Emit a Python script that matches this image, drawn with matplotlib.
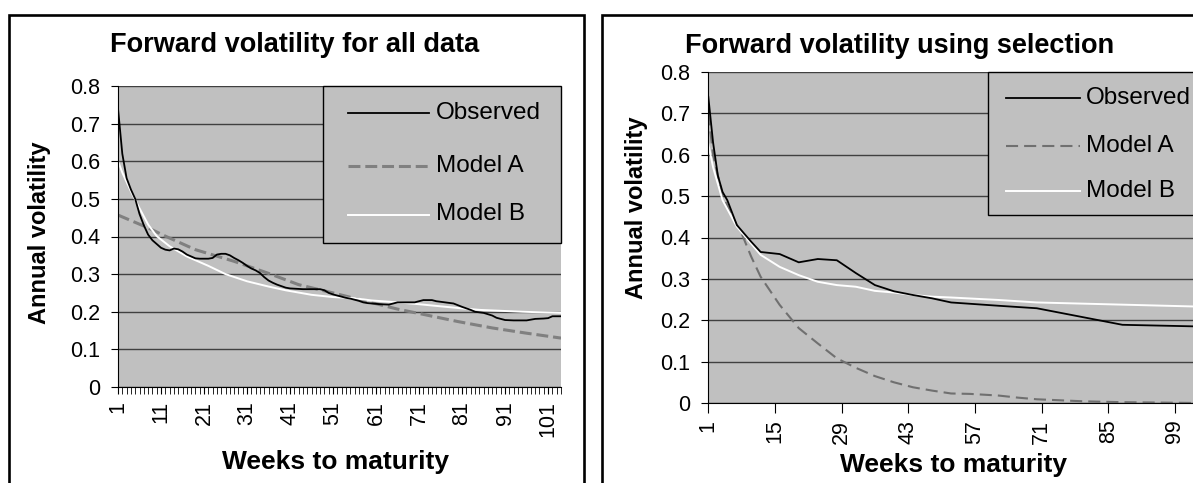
import matplotlib
matplotlib.use("Agg")
import matplotlib.pyplot as plt
from matplotlib.patches import Rectangle
from matplotlib.lines import Line2D
from matplotlib.ticker import FuncFormatter

plt.rcParams["font.family"] = ["Liberation Sans", "DejaVu Sans"]

# --- all data, weekly categories 1..104 ---
all_obs_weeks = [1, 2, 3, 4, 5, 6, 7, 8, 9, 10, 11, 12, 13, 14, 15, 16, 17, 18, 19, 20,
                 22, 23, 24, 25, 26, 27, 28, 29, 30, 31, 32, 33, 34, 35, 36, 37, 38, 39, 40,
                 41, 44, 48, 49, 50, 51, 52, 53, 54, 55, 56, 57, 58, 59, 60, 62, 64, 65, 66,
                 68, 70, 72, 74, 75, 77, 79, 81, 83, 84, 86, 88, 89, 91, 93, 96, 98, 100,
                 101, 102, 104]
all_obs = [0.74, 0.62, 0.555, 0.525, 0.50, 0.46, 0.43, 0.405, 0.39, 0.38, 0.37, 0.365,
           0.363, 0.368, 0.366, 0.36, 0.352, 0.347, 0.342, 0.341, 0.341, 0.343, 0.352,
           0.354, 0.354, 0.35, 0.343, 0.337, 0.33, 0.322, 0.315, 0.31, 0.303, 0.292, 0.283,
           0.277, 0.272, 0.268, 0.264, 0.262, 0.26, 0.26, 0.257, 0.25, 0.246, 0.243, 0.24,
           0.237, 0.235, 0.232, 0.229, 0.225, 0.223, 0.222, 0.22, 0.219, 0.222, 0.225,
           0.225, 0.225, 0.231, 0.231, 0.228, 0.225, 0.222, 0.213, 0.205, 0.2, 0.197, 0.19,
           0.184, 0.178, 0.177, 0.177, 0.181, 0.182, 0.183, 0.188, 0.188]

all_a_weeks = [1, 8, 12, 19, 28, 36, 43, 51, 59, 66, 72, 80, 88, 96, 104]
all_a = [0.457, 0.423, 0.401, 0.365, 0.334, 0.302, 0.272, 0.25, 0.227, 0.207, 0.193,
         0.174, 0.157, 0.143, 0.13]

all_b_weeks = [1, 2, 4, 6, 8, 10, 13, 17, 22, 26, 31, 36, 40, 46, 51, 56, 60, 66, 71,
               80, 85, 95, 104]
all_b = [0.6, 0.57, 0.52, 0.475, 0.432, 0.401, 0.374, 0.347, 0.322, 0.3, 0.281, 0.267,
         0.257, 0.245, 0.239, 0.236, 0.23, 0.225, 0.22, 0.21, 0.205, 0.2, 0.197]

# --- selected maturities ---
sel_obs_weeks = [1, 2, 3, 4, 5, 7, 10, 12, 16, 20, 24, 28, 32, 36, 40, 44, 48, 52, 62,
                 70, 88, 104]
sel_obs = [0.74, 0.63, 0.55, 0.51, 0.49, 0.43, 0.39, 0.365, 0.36, 0.34, 0.348, 0.345,
           0.314, 0.285, 0.27, 0.261, 0.253, 0.243, 0.235, 0.229, 0.189, 0.185]

sel_a_weeks = [1, 2, 4, 7, 8, 10, 12, 16, 20, 24, 28, 32, 36, 40, 44, 48, 52, 56, 62,
               66, 70, 80, 88, 104]
sel_a = [0.70, 0.6, 0.5, 0.43, 0.41, 0.354, 0.305, 0.237, 0.181, 0.144, 0.108, 0.085,
         0.065, 0.05, 0.038, 0.03, 0.023, 0.022, 0.018, 0.013, 0.009, 0.004, 0.002, 0.0]

sel_b_weeks = [1, 2, 4, 7, 12, 16, 20, 24, 28, 32, 36, 40, 44, 48, 52, 62, 70, 104]
sel_b = [0.626, 0.57, 0.49, 0.426, 0.358, 0.329, 0.309, 0.293, 0.285, 0.281, 0.271,
         0.267, 0.261, 0.257, 0.255, 0.249, 0.243, 0.233]

labels = ["Observed", "Model A", "Model B"]

W, H = 1193, 483
fig = plt.figure(figsize=(W / 100, H / 100), dpi=100)


def fx(px):
    return px / W


def fy(py):
    return 1 - py / H


def pane(x0, y0, x1, y1):
    return fig.add_axes([fx(x0), fy(y1), (x1 - x0) / W, (y1 - y0) / H])


# chart frames
for x0, x1 in [(9, 584), (602, 1300)]:
    fig.add_artist(Rectangle((fx(x0), -0.1), (x1 - x0) / W, fy(15) + 0.1,
                             transform=fig.transFigure, fill=False, lw=1.9, ec="black"))


def setup(ax):
    ax.set_facecolor("#c0c0c0")
    ax.spines["top"].set_visible(False)
    ax.spines["right"].set_visible(False)
    ax.set_ylim(0, 0.8)
    ax.set_xlim(1, 104)
    ax.set_yticks([i / 10 for i in range(9)])
    ax.yaxis.set_major_formatter(FuncFormatter(lambda v, p: "0" if v == 0 else "%.1f" % v))
    ax.yaxis.grid(True, color="#404040", lw=1.0)
    ax.set_axisbelow(True)
    ax.tick_params(axis="y", length=5, labelsize=15.5, pad=8)
    ax.tick_params(axis="x", labelsize=15.5, labelrotation=90, pad=5)


def legend(x0, y0, x1, y1, rows, lx0, lx1, tx, styles):
    fig.add_artist(Rectangle((fx(x0), fy(y1)), (x1 - x0) / W, (y1 - y0) / H,
                             transform=fig.transFigure, fc="#c0c0c0", ec="black", lw=1.0))
    for ry, lab, st in zip(rows, labels, styles):
        fig.add_artist(Line2D([fx(lx0), fx(lx1)], [fy(ry), fy(ry)],
                              transform=fig.transFigure, **st))
        fig.text(fx(tx), fy(ry), lab, fontsize=17.5, va="center", ha="left")


# left chart
ax1 = pane(118, 86, 561, 387)
setup(ax1)
ax1.plot(all_a_weeks, all_a, color="#808080", lw=2.2, dashes=(3.9, 1.6))
ax1.plot(all_b_weeks, all_b, color="white", lw=1.4)
ax1.plot(all_obs_weeks, all_obs, color="black", lw=1.3)
ax1.set_xticks(range(1, 105, 10))
ax1.set_xticks(range(1, 105), minor=True)
ax1.tick_params(axis="x", which="both", length=5)

legend(322.7, 86, 561, 243, [113, 166, 214.5], 348, 428.6, 436,
       [dict(color="black", lw=1.3),
        dict(color="#808080", lw=2.2, dashes=(3.9, 1.6)),
        dict(color="white", lw=1.4)])

fig.text(fx(295), fy(45), "Forward volatility for all data", fontsize=19.5,
         fontweight="bold", ha="center", va="center")
fig.text(fx(40), fy(233), "Annual volatility", fontsize=17, fontweight="bold",
         rotation=90, ha="center", va="center")
fig.text(fx(335), fy(462), "Weeks to maturity", fontsize=19, fontweight="bold",
         ha="center", va="center")

# right chart
ax2 = pane(708.3, 72, 1198.6, 403)
setup(ax2)
ax2.plot(sel_a_weeks, sel_a, color="#707070", lw=1.5, dashes=(5.8, 2.9))
ax2.plot(sel_b_weeks, sel_b, color="white", lw=1.4)
ax2.plot(sel_obs_weeks, sel_obs, color="black", lw=1.3)
ax2.set_xticks(range(1, 105, 14))
ax2.tick_params(axis="x", length=7)

legend(988.3, 72, 1198.6, 215, [98.3, 145.7, 190.7], 1006.4, 1080, 1085.8,
       [dict(color="black", lw=1.3),
        dict(color="#707070", lw=1.5, dashes=(5.8, 2.9)),
        dict(color="white", lw=1.4)])

fig.text(fx(900), fy(46), "Forward volatility using selection", fontsize=19.5,
         fontweight="bold", ha="center", va="center")
fig.text(fx(636), fy(208), "Annual volatility", fontsize=17, fontweight="bold",
         rotation=90, ha="center", va="center")
fig.text(fx(953), fy(465), "Weeks to maturity", fontsize=19, fontweight="bold",
         ha="center", va="center")

fig.savefig("out.png", dpi=100)
